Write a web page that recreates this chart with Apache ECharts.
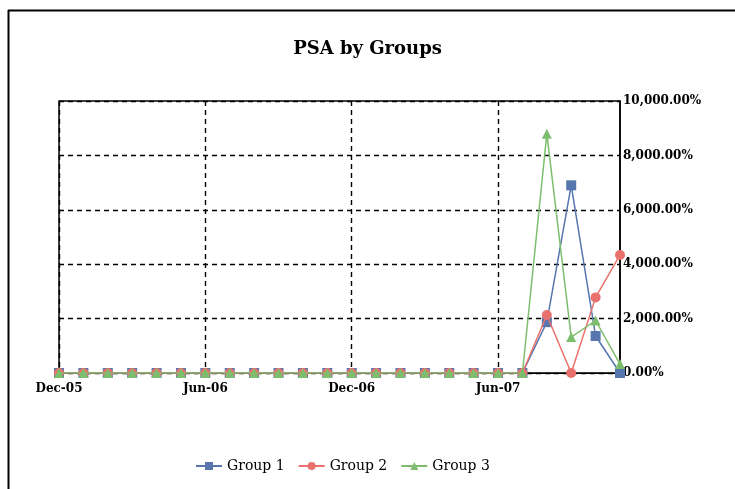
<!DOCTYPE html>
<html>
<head>
<meta charset="utf-8">
<script src="https://cdn.jsdelivr.net/npm/echarts@6/dist/echarts.min.js"></script>
<style>html,body{margin:0;padding:0;background:#fff}#c{width:735px;height:489px}</style>
</head>
<body>
<div id="c"></div>
<script>
const categories = ['Dec-05','Jan-06','Feb-06','Mar-06','Apr-06','May-06','Jun-06','Jul-06','Aug-06','Sep-06','Oct-06','Nov-06',
  'Dec-06','Jan-07','Feb-07','Mar-07','Apr-07','May-07','Jun-07','Jul-07','Aug-07','Sep-07','Oct-07','Nov-07'];
const group1 = [0,0,0,0,0,0,0,0,0,0,0,0,0,0,0,0,0,0,0,0,1870,6900,1360,0];
const group2 = [0,0,0,0,0,0,0,0,0,0,0,0,0,0,0,0,0,0,0,0,2130,0,2780,4340];
const group3 = [0,0,0,0,0,0,0,0,0,0,0,0,0,0,0,0,0,0,0,0,8800,1320,1930,330];
const yTicks = [0,2000,4000,6000,8000,10000];

const serif = '"DejaVu Serif","Liberation Serif",serif';
function fmt(v){return v.toLocaleString('en-US',{minimumFractionDigits:2,maximumFractionDigits:2})+'%';}

const chart = echarts.init(document.getElementById('c'));
chart.setOption({
  animation:false,
  backgroundColor:'#fff',
  title:{text:'PSA by Groups',left:'center',top:35,textStyle:{fontFamily:serif,fontSize:18,fontWeight:'bold',color:'#000'}},
  graphic:[
    {type:'line',shape:{x1:8.5,y1:10,x2:8.5,y2:489},style:{stroke:'#000',lineWidth:2}},
    {type:'line',shape:{x1:8,y1:10.5,x2:735,y2:10.5},style:{stroke:'#000',lineWidth:2}}
  ],
  grid:{left:59,right:115,top:101,bottom:116,show:true,borderColor:'#000',borderWidth:1.5},
  legend:{bottom:11,left:190,itemWidth:26,itemHeight:10,itemGap:13,
    textStyle:{fontFamily:serif,fontSize:14,color:'#000'},
    data:['Group 1','Group 2','Group 3']},
  xAxis:{type:'category',data:categories,boundaryGap:false,
    axisLine:{lineStyle:{color:'#000'}},axisTick:{show:false},
    axisLabel:{interval:5,color:'#000',fontFamily:serif,fontSize:12,fontWeight:'bold',margin:10},
    splitLine:{show:true,interval:5,lineStyle:{color:'#000',type:[5,4],width:1.4}}},
  yAxis:{type:'value',position:'right',min:yTicks[0],max:yTicks[yTicks.length-1],interval:2000,
    axisLine:{show:true,lineStyle:{color:'#000',width:1.5}},axisTick:{show:false},
    axisLabel:{formatter:fmt,color:'#000',fontFamily:serif,fontSize:12,fontWeight:'bold',margin:3},
    splitLine:{lineStyle:{color:'#000',type:[5,4],width:1.4}}},
  series:[
    {name:'Group 1',type:'line',data:group1,symbol:'rect',symbolSize:10,color:'#5676AD',lineStyle:{width:1.5},z:3},
    {name:'Group 2',type:'line',data:group2,symbol:'circle',symbolSize:10,color:'#E8716D',lineStyle:{width:1.5},z:4},
    {name:'Group 3',type:'line',data:group3,symbol:'triangle',symbolSize:10,color:'#7DBE6E',lineStyle:{width:1.5},z:5}
  ]
});
</script>
</body>
</html>
